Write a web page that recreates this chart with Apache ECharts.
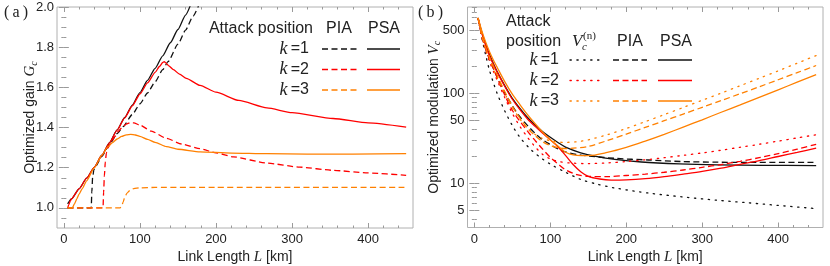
<!DOCTYPE html>
<html><head><meta charset="utf-8">
<script src="https://cdn.jsdelivr.net/npm/echarts@6/dist/echarts.min.js"></script>
<style>html,body{margin:0;padding:0;background:#fff}#c{width:830px;height:266px}</style>
</head><body><div id="c"></div>
<script>
// ---------------- tick labels ----------------
const xTicks = [0, 100, 200, 300, 400];
const xMinor = [20,40,60,80,120,140,160,180,220,240,260,280,320,340,360,380,420,440];
const gTicks = [1.0, 1.2, 1.4, 1.6, 1.8, 2.0];
const gMinor = [0.95,1.05,1.1,1.15,1.25,1.3,1.35,1.45,1.5,1.55,1.65,1.7,1.75,1.85,1.9,1.95];
const vTicks = [5, 10, 50, 100, 500];
const vMinor = [4,6,7,8,9,20,30,40,60,70,80,90,200,300,400,600,700,800,900];

// ---------------- (a) optimized gain G_c  [L km, G] ----------------
const a_k1_PIA = [[5,1],[36,1],[36.8,1.08],[37.8,1.15],[39.5,1.19],[42,1.208],[50,1.257],[60,1.316],[70,1.37],[78,1.405],[90,1.465],[100,1.518],[110,1.572],[120,1.628],[130,1.688],[137,1.728],[150,1.815],[160,1.885],[170,1.955],[178,2.015]];
const a_k1_PSA = [[5,1.02],[10,1.045],[20,1.095],[30,1.148],[40,1.202],[50,1.262],[60,1.325],[70,1.388],[80,1.45],[90,1.512],[100,1.574],[110,1.635],[120,1.695],[130,1.757],[140,1.822],[150,1.888],[160,1.96],[168,2.025]];
const a_k2_PIA = [[5,1],[51.5,1],[52.3,1.08],[53.3,1.16],[54.5,1.23],[56,1.275],[58,1.3],[62,1.325],[67,1.355],[72,1.383],[77,1.403],[82,1.417],[87,1.424],[92,1.423],[100,1.412],[115,1.382],[135,1.346],[155,1.318],[179,1.295],[200,1.274],[223,1.254],[267,1.223],[310,1.203],[354,1.187],[400,1.174],[450,1.162]];
const a_k2_PSA = [[5,1.0],[6.5,1.015],[8.5,1.035],[10,1.045],[20,1.095],[30,1.148],[40,1.202],[50,1.262],[60,1.324],[70,1.387],[80,1.448],[90,1.508],[100,1.567],[110,1.622],[120,1.675],[126,1.705],[130,1.724],[132,1.728],[134,1.722],[138,1.707],[144,1.688],[152,1.666],[161,1.645],[179,1.61],[200,1.576],[230,1.535],[267,1.498],[300,1.474],[354,1.445],[400,1.423],[450,1.402]];
const a_k3_PIA = [[5,1],[74,1],[76,1.008],[78,1.03],[80,1.053],[83,1.074],[87,1.088],[92,1.096],[100,1.1],[120,1.102],[200,1.102],[450,1.102]];
const a_k3_PSA = [[5,1],[11,1],[14,1.02],[17,1.045],[20,1.068],[24,1.095],[30,1.135],[40,1.2],[50,1.262],[58,1.305],[64,1.325],[70,1.343],[76,1.356],[82,1.364],[88,1.366],[94,1.363],[100,1.356],[110,1.341],[120,1.326],[135,1.305],[150,1.292],[179,1.279],[220,1.273],[267,1.27],[320,1.268],[380,1.268],[450,1.27]];

// ---------------- (b) optimized modulation V_c  [L km, V] ----------------
const b_k1_n   = [[5,680],[10,410],[15,265],[20,180],[25,132],[30,100],[40,64],[50,44],[60,32.5],[75,23.5],[90,18.6],[100,16.4],[120,13.3],[141,11],[160,9.9],[185,8.9],[230,7.8],[273,7.1],[320,6.5],[360,6.1],[400,5.7],[450,5.25]];
const b_k1_PIA = [[5,680],[10,430],[15,310],[20,240],[30,152],[40,102],[50,73],[60,55],[70,44],[80,36],[90,30.5],[100,27],[110,24.2],[120,22.4],[141,20.6],[185,19],[229,18.2],[273,17.5],[320,17.2],[360,17.1],[450,17.1]];
const b_k1_PSA = [[5,680],[10,470],[15,350],[20,270],[25,215],[30,175],[40,122],[50,88],[60,68],[70,54],[80,44.5],[90,37.5],[100,32.5],[110,28.5],[120,25.3],[140,21.9],[160,20],[185,18.5],[220,17.3],[270,16.5],[320,16.1],[380,15.9],[450,15.8]];
const b_k2_n   = [[5,680],[10,420],[15,300],[20,225],[30,140],[40,90],[50,60],[60,43],[70,32.5],[80,25.5],[90,21],[100,18.7],[110,17.6],[125,16.9],[150,16.6],[175,16.9],[200,17.5],[225,18.3],[250,19.3],[275,20.5],[300,21.8],[325,23.4],[350,25.2],[375,27.2],[400,29.5],[425,32],[450,34.7]];
const b_k2_PIA = [[5,680],[10,425],[15,310],[20,240],[30,150],[40,96],[50,65],[60,49],[70,38],[80,30],[90,24],[100,19.5],[110,16.5],[120,14.2],[135,12.5],[150,11.97],[175,11.9],[200,12.25],[225,12.7],[250,13.3],[275,14.1],[300,15.1],[325,16.2],[350,17.6],[375,19.3],[400,21.4],[425,24],[450,27.2]];
const b_k2_PSA = [[5,680],[10,460],[15,340],[20,262],[25,210],[30,172],[40,120],[50,86],[60,66],[70,52],[80,43],[90,36],[100,30.5],[110,25.5],[120,20.5],[130,16.2],[140,13.5],[150,12],[165,11.2],[180,10.9],[200,10.96],[225,11.3],[250,11.9],[275,12.7],[300,13.6],[325,14.8],[350,16.3],[375,17.9],[400,19.9],[425,22.1],[450,24.7]];
const b_k3_n   = [[5,680],[10,430],[15,310],[20,240],[30,150],[40,100],[50,70],[60,52],[70,41],[80,35],[90,31.5],[100,29.8],[110,28.8],[120,28.6],[135,29],[150,30.5],[175,34.7],[200,40.7],[225,48.5],[250,58.1],[275,69.7],[300,83.8],[325,100.7],[350,121.6],[375,146.9],[400,177.8],[425,216.3],[450,263]];
const b_k3_PIA = [[5,680],[10,440],[15,320],[20,250],[30,160],[40,105],[50,72],[60,53],[70,41],[80,34],[90,29],[100,26.3],[110,24.9],[120,24.4],[130,24.6],[150,25.7],[175,29.9],[200,35.3],[225,41.9],[250,49.7],[275,58.9],[300,70],[325,83.2],[350,99.1],[375,118.3],[400,141.6],[425,169.8],[450,204]];
const b_k3_PSA = [[5,690],[10,490],[15,370],[20,290],[25,235],[30,195],[40,135],[50,98],[60,75],[70,58],[80,46],[90,37],[100,30.5],[110,26],[118,22.8],[125,21.3],[135,20.5],[150,20.4],[175,22.1],[200,25.1],[225,29.5],[250,35.1],[275,42.2],[300,50.9],[325,61.7],[350,74.6],[375,90.4],[400,109.6],[425,133],[450,161.4]];

// ---------------- styling ----------------
const C_K1 = '#111111', C_K2 = '#ff0000', C_K3 = '#ff8000';
const DASH = [6, 3.5], DOT = [1.3, 5.6];
const FRAME = '#b0b0b0', TICK = '#9a9a9a', LBL = '#222';
const SANS = '"Liberation Sans", Arial, sans-serif';
const SERIF = '"Liberation Serif", "Times New Roman", serif';

function axisSet(kind, gridIndex, type, min, max, major, minor, fmt, name, nameGap, rich) {
  const pos = kind === 'x' ? ['bottom', 'top'] : ['left', 'right'];
  const base = { gridIndex, type, min, max, splitLine: { show: false }, axisLine: { show: false } };
  if (type === 'log') base.logBase = 10;
  const tick = (vals, len) => ({ show: true, inside: true, length: len, customValues: vals, lineStyle: { color: TICK, width: 1 } });
  const out = [];
  out.push(Object.assign({}, base, {
    position: pos[0], axisTick: tick(major, 5),
    axisLabel: { show: true, customValues: major, formatter: fmt, fontSize: 13, fontFamily: SANS, color: LBL, margin: kind === 'x' ? 5 : 3 },
    name, nameLocation: 'middle', nameGap, nameMoveOverlap: false,
    nameTextStyle: { fontSize: 14, fontFamily: SANS, color: LBL, rich }
  }));
  out.push(Object.assign({}, base, { position: pos[0], axisTick: tick(minor, 2.5), axisLabel: { show: false } }));
  out.push(Object.assign({}, base, { position: pos[1], axisTick: tick(major, 5), axisLabel: { show: false } }));
  out.push(Object.assign({}, base, { position: pos[1], axisTick: tick(minor, 2.5), axisLabel: { show: false } }));
  return out;
}

const richName = {
  i: { fontFamily: SERIF, fontStyle: 'italic', fontSize: 15, color: LBL },
  s: { fontFamily: SERIF, fontStyle: 'italic', fontSize: 10, color: LBL, padding: [7, 0, 0, 0] },
  k: { fontFamily: SANS, fontSize: 14, color: LBL }
};

const xA = axisSet('x', 0, 'value', -9, 459, xTicks, xMinor, v => String(v), '{k|Link Length }{i|L}{k| [km]}', 22, richName);
const xB = axisSet('x', 1, 'value', -9, 459, xTicks, xMinor, v => String(v), '{k|Link Length }{i|L}{k| [km]}', 22, richName);
const yA = axisSet('y', 0, 'value', 0.9, 2.0, gTicks, gMinor, v => Number(v).toFixed(1), '{k|Optimized gain }{i|G}{s|c}', 18, richName);
const yB = axisSet('y', 1, 'log', 3.24, 910, vTicks, vMinor, v => String(v), '{k|Optimized modulation }{i|V}{s|c}', 25, richName);

function ser(data, color, dash, xi, yi) {
  const left = xi === 0;
  const s = {
    type: 'line', data, xAxisIndex: xi, yAxisIndex: yi, showSymbol: false, symbol: 'none',
    smooth: left ? 0.2 : 0.3, clip: true, animation: false, silent: true,
    lineStyle: { color, width: 1.3, type: dash || 'solid', cap: dash === DOT ? 'round' : 'butt' }
  };
  if (left) s.smoothMonotone = 'x';
  return s;
}

const series = [
  ser(a_k1_PIA, C_K1, DASH, 0, 0), ser(a_k1_PSA, C_K1, null, 0, 0),
  ser(a_k2_PIA, C_K2, DASH, 0, 0), ser(a_k2_PSA, C_K2, null, 0, 0),
  ser(a_k3_PIA, C_K3, DASH, 0, 0), ser(a_k3_PSA, C_K3, null, 0, 0),
  ser(b_k1_n, C_K1, DOT, 4, 4), ser(b_k1_PIA, C_K1, DASH, 4, 4), ser(b_k1_PSA, C_K1, null, 4, 4),
  ser(b_k2_n, C_K2, DOT, 4, 4), ser(b_k2_PIA, C_K2, DASH, 4, 4), ser(b_k2_PSA, C_K2, null, 4, 4),
  ser(b_k3_n, C_K3, DOT, 4, 4), ser(b_k3_PIA, C_K3, DASH, 4, 4), ser(b_k3_PSA, C_K3, null, 4, 4)
];

// ---------------- legend tables (graphic) ----------------
const kRich = {
  k: { fontFamily: SERIF, fontStyle: 'italic', fontSize: 18, fill: LBL },
  e: { fontFamily: SANS, fontSize: 16, fill: LBL }
};
function txt(text, x, y, align, size, family, extra) {
  return { type: 'text', x, y, z: 100, style: Object.assign({ text, fontSize: size, fontFamily: family || SANS, fill: LBL, align: align, verticalAlign: 'middle' }, extra || {}) };
}
function kLabel(n, xRight, y) {
  return { type: 'text', x: xRight, y, z: 100, style: { text: '{k|k}{e|\u2009=' + n + '}', rich: kRich, align: 'right', verticalAlign: 'middle' } };
}
function seg(x1, x2, y, color, dash) {
  return { type: 'line', z: 100, shape: { x1, y1: y, x2, y2: y }, style: { stroke: color, lineWidth: 1.3, lineDash: dash || null, lineCap: dash === DOT ? 'round' : 'butt' } };
}
const rowsA = [49, 69.5, 90], rowsB = [60, 80.5, 101];
const colors = [C_K1, C_K2, C_K3];
const graphic = [
  txt('(\u2009a\u2009)', 4, 13, 'left', 16, SERIF),
  txt('(\u2009b\u2009)', 418, 13, 'left', 16, SERIF),
  txt('Attack position', 313, 29, 'right', 16),
  txt('PIA', 339, 29, 'center', 16),
  txt('PSA', 384, 29, 'center', 16),
  txt('Attack', 506, 22, 'left', 16),
  txt('position', 506, 42, 'left', 16),
  txt('V', 572, 42, 'left', 17, SERIF, { fontStyle: 'italic' }),
  txt('c', 582, 47, 'left', 11, SERIF, { fontStyle: 'italic' }),
  txt('(n)', 583, 36, 'left', 11, SERIF),
  txt('PIA', 630, 42, 'center', 16),
  txt('PSA', 676, 42, 'center', 16)
];
[1, 2, 3].forEach((n, i) => {
  graphic.push(kLabel(n, 309, rowsA[i]));
  graphic.push(seg(322, 357, rowsA[i], colors[i], DASH));
  graphic.push(seg(367, 400, rowsA[i], colors[i]));
  graphic.push(kLabel(n, 559, rowsB[i]));
  graphic.push(seg(570, 603, rowsB[i], colors[i], DOT));
  graphic.push(seg(613, 647, rowsB[i], colors[i], DASH));
  graphic.push(seg(658, 692, rowsB[i], colors[i]));
});

const chart = echarts.init(document.getElementById('c'), null, { renderer: 'canvas' });
chart.setOption({
  animation: false,
  backgroundColor: '#fff',
  grid: [
    { left: 57, right: 417, top: 7, bottom: 38, show: true, borderColor: FRAME, borderWidth: 1, backgroundColor: 'transparent', containLabel: false, outerBoundsMode: 'none' },
    { left: 467.5, right: 7, top: 7, bottom: 38.5, show: true, borderColor: FRAME, borderWidth: 1, backgroundColor: 'transparent', containLabel: false, outerBoundsMode: 'none' }
  ],
  xAxis: xA.concat(xB),
  yAxis: yA.concat(yB),
  series,
  graphic
});
</script></body></html>
